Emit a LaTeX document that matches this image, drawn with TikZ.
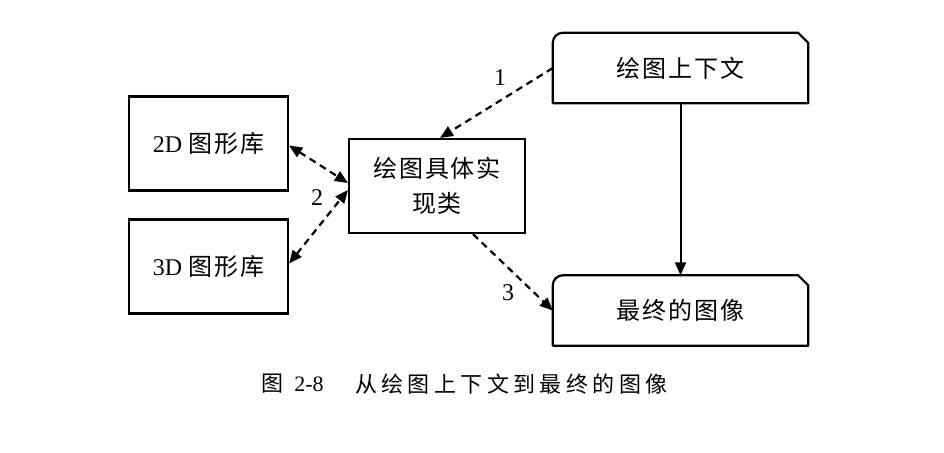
\documentclass[tikz,border=0pt]{standalone}
\usepackage{fontspec}
\setmainfont{Liberation Serif}
\newfontfamily\cjk{Noto Sans CJK SC}[LetterSpace=8]
\newfontfamily\cjkcap{Noto Sans CJK SC}[LetterSpace=20]
\usetikzlibrary{arrows.meta,calc}
\begin{document}
\begin{tikzpicture}[x=1pt,y=-1pt,
  box/.style={draw,line width=2.2pt,inner sep=0pt,font=\fontsize{24}{35}\selectfont},
  tabbox/.style={inner sep=0pt,minimum width=255pt,minimum height=70pt,font=\fontsize{24}{35}\selectfont},
  dasharrow/.style={line width=2.2pt,dash pattern=on 7pt off 5pt,-{Triangle[length=13pt,width=11pt]}},
  dashboth/.style={line width=2.2pt,dash pattern=on 7pt off 5pt,{Triangle[length=13pt,width=11pt]}-{Triangle[length=13pt,width=11pt]}},
  solidarrow/.style={line width=2pt,-{Triangle[length=13pt,width=11pt]}},
  lbl/.style={font=\fontsize{24}{28}\selectfont,inner sep=0pt},
  caption/.style={font=\fontsize{22}{24}\selectfont,inner sep=0pt}]
\useasboundingbox (0,0) rectangle (944,452);
\fill[white] (0,0) rectangle (944,452);

\node[box,minimum width=159pt,minimum height=94pt] (lib2) at (208.5,143.5) {2D {\cjk 图形库}};
\node[box,minimum width=159pt,minimum height=94pt] (lib3) at (208.5,266.5) {3D {\cjk 图形库}};
\node[box,minimum width=176pt,minimum height=94pt,align=center] (impl) at (437,186) {\cjk 绘图具体实\\\cjk 现类};

\node[tabbox] (ctx) at (680.5,68) {\cjk 绘图上下文};
\node[tabbox] (out) at (680.5,310.5) {\cjk 最终的图像};

\foreach \n in {ctx,out}{
  \draw[line width=2.2pt,line join=round]
    (\n.south west) -- ($(\n.north west)+(0,10)$)
    arc[start angle=180,end angle=270,radius=10]
    -- ($(\n.north east)+(-10,0)$) -- ($(\n.north east)+(0,10)$)
    -- (\n.south east) -- cycle;
}

\draw[solidarrow] (ctx.south) -- (out.north);
\draw[dasharrow] (ctx.west) -- ($(impl.north)+(3,0)$);
\draw[dashboth] ($(lib2.east)+(0,2)$) -- ($(impl.west)+(0,-3)$);
\draw[dashboth] ($(lib3.east)+(0,-3)$) -- ($(impl.west)+(0,4)$);
\draw[dasharrow] ($(impl.south)+(36,0)$) -- (out.west);

\node[lbl] (l1) at (500,78) {1};
\node[lbl] (l2) at (317,198) {2};
\node[lbl] (l3) at (508,293) {3};

\node[caption] (cap1) at (272,384) {\cjk 图};
\node[caption] (cap2) at (309,384) {2-8};
\node[caption,anchor=west] (cap3) at (355,384) {\cjkcap 从绘图上下文到最终的图像};
\end{tikzpicture}
\end{document}
